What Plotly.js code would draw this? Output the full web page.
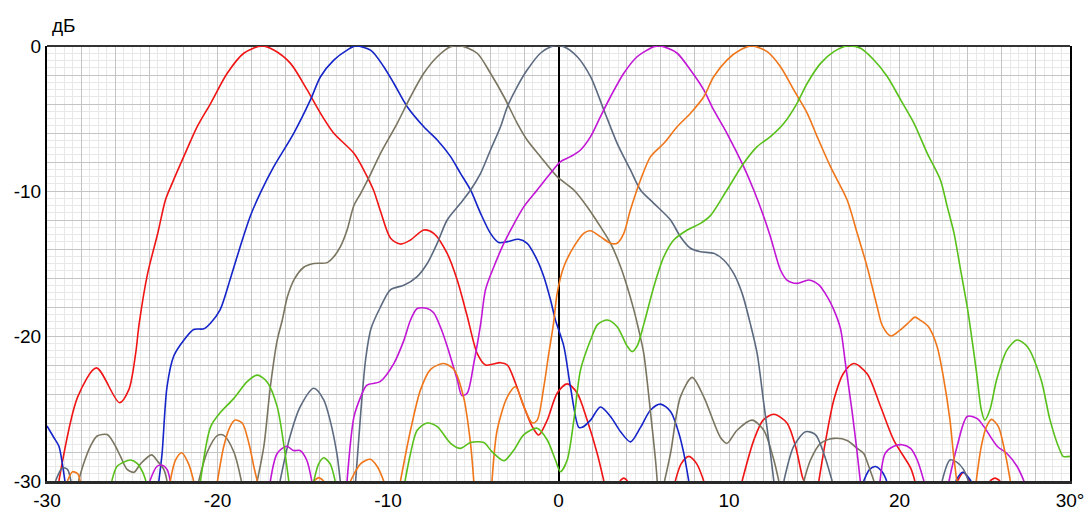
<!DOCTYPE html>
<html>
<head>
<meta charset="utf-8">
<script src="https://cdn.plot.ly/plotly-3.0.1.min.js"></script>
<style>html,body{margin:0;padding:0;background:#fff;}#chart{width:1088px;height:511px;}</style>
</head>
<body>
<div id="chart"></div>
<script>
// Beam patterns (dB vs angle, degrees); null = curve below -30 dB (cut off)
var redX = [-29.3,-28.2,-27.1,-25.75,-25.2,-24.8,-24.6,-24.1,-23.5,-23.05,-22.66,-21.98,-21.19,-20.4,-19.43,-18.46,-17.4,-16.7,-15.72,-14.74,-13.96,-13.18,-12.0,-11.32,-10.83,-10.44,-9.85,-9.27,-8.68,-7.9,-7.32,-6.53,-5.94,-5.36,-4.77,-4.28,-3.4,-3.0,-2.52,-2.03,-1.54,-1.16,-0.66,-0.08,0.51,1.1,1.68,2.27,2.66,null,
  3.6,3.83,4.05,null,6.85,7.2,7.64,8.1,8.52,null,10.77,11.45,12.0,12.63,13.4,13.9,14.3,14.4,null,
  15.27,15.7,16.15,16.7,17.32,18.1,18.9,19.67,20.65,20.9,null,23.4,23.77,24.1,null,25.3,25.6,25.9];
var redY = [-30,-24.2,-22.2,-24.6,-23.7,-21.2,-19.2,-15.7,-12.9,-10.6,-9.47,-7.63,-5.56,-3.95,-1.88,-0.5,0,-0.28,-1.2,-3.03,-4.64,-6.02,-7.4,-8.78,-10.0,-11.4,-13.26,-13.66,-13.38,-12.69,-12.92,-14.3,-16.14,-18.6,-21.2,-22.0,-21.84,-22.0,-23.26,-24.87,-26.25,-26.83,-25.8,-23.95,-23.3,-23.95,-25.8,-28.1,-30,null,
  -30,-29.8,-30,null,-30,-28.8,-28.3,-28.8,-30,null,-30,-27.2,-25.8,-25.4,-26.0,-27.6,-29.7,-30,null,
  -30,-27.0,-24.4,-22.6,-21.9,-22.6,-24.9,-27.2,-29.1,-30,null,-30,-29.4,-30,null,-30,-29.8,-30];

var blueX = [-30,-29.6,-29.3,-29.1,-28.95,null,
  -23.44,-23.25,-22.96,-22.57,-21.98,-21.4,-20.8,-20.4,-19.85,-19.26,-18.67,-18.09,-17.5,-16.7,-15.53,-14.55,-13.96,-13.18,-12.4,-11.9,-11.0,-10.25,-9.66,-8.87,-7.9,-7.11,-6.33,-5.75,-5.16,-4.57,-3.99,-3.5,-3.0,-2.34,-1.84,-1.25,-0.86,-0.47,-0.18,0.31,0.7,1.19,1.39,1.88,2.46,3.05,3.64,4.22,4.81,5.4,5.98,6.57,7.06,7.35,7.64,null,
  17.9,18.25,18.6,19.0,19.25,null,23.3,23.7,24.2];
var blueY = [-26.2,-27.0,-27.6,-28.8,-30,null,
  -30,-28.1,-23.5,-21.4,-20.3,-19.55,-19.5,-19.1,-18.2,-16.1,-13.84,-11.77,-10.16,-8.32,-6.02,-3.72,-2.12,-0.97,-0.28,0,-0.3,-1.43,-2.57,-4.19,-5.57,-6.48,-7.63,-8.78,-9.93,-11.54,-12.92,-13.56,-13.49,-13.33,-13.61,-14.76,-15.91,-17.5,-18.9,-20.7,-23.5,-26.3,-26.3,-25.8,-24.9,-25.55,-26.6,-27.3,-26.3,-25.1,-24.7,-25.2,-26.7,-28.1,-30,null,
  -30,-29.2,-29.0,-29.4,-30,null,-30,-29.4,-30];

var oliveX = [-28.15,-27.85,-27.45,-27.06,-26.47,-26.08,-25.69,-25.3,-24.9,-24.5,-23.86,-23.54,-23.15,-22.96,null,
  -21.1,-20.6,-20.0,-19.63,-19.04,-18.6,null,
  -17.67,-17.28,-16.9,-16.5,-16.2,-15.9,-15.5,-14.94,-14.35,-13.57,-13.18,-12.79,-12.4,-12.0,-11.6,-11.13,-10.44,-9.46,-8.68,-7.9,-7.11,-6.33,-5.7,-4.77,-3.99,-3.2,-2.42,-1.84,-1.06,-0.08,0.9,1.68,2.46,3.05,3.64,4.03,4.42,4.71,5.0,5.4,5.69,5.79,null,
  6.22,6.57,7.15,7.84,8.52,9.5,9.88,10.47,11.35,12.04,12.63,12.92,null,
  14.39,14.78,15.37,16.15,16.93,17.52,17.9,18.2,18.5];
var oliveY = [-30,-28.8,-27.6,-26.9,-26.8,-27.4,-28.3,-29.2,-29.4,-28.8,-28.2,-28.6,-29.2,-30,null,
  -30,-28.0,-26.85,-26.85,-28.0,-30,null,
  -30,-27.6,-23.5,-20.3,-18.9,-17.3,-16.1,-15.26,-15.0,-14.94,-14.53,-13.84,-12.69,-11.0,-10.16,-9.1,-7.4,-5.33,-3.5,-1.88,-0.74,-0.05,0,-0.5,-1.88,-3.5,-5.33,-6.48,-7.63,-9.01,-9.93,-11.08,-12.46,-13.6,-15.22,-16.6,-18.2,-19.6,-21.2,-25.3,-28.55,-30,null,
  -30,-28.1,-24.2,-22.85,-24.2,-27.0,-27.4,-26.5,-25.8,-26.5,-28.55,-30,null,
  -30,-28.55,-27.4,-27.06,-27.2,-27.75,-28.1,-29.0,-30];

var slateX = [-29.5,-29.1,-28.8,-28.6,null,
  -16.33,-15.74,-15.16,-14.35,-13.77,-13.4,-13.0,-12.8,null,
  -11.9,-11.6,-11.3,-11.0,-10.44,-9.85,-9.07,-8.29,-7.7,-7.11,-6.53,-5.75,-5.16,-4.57,-3.99,-3.4,-3.0,-2.42,-1.84,-1.06,-0.3,0.31,1.1,1.88,2.66,3.44,4.22,4.81,5.59,6.57,7.15,7.74,8.33,9.1,9.69,10.28,10.77,11.26,11.65,12.04,12.43,12.63,null,
  13.22,13.8,14.49,15.07,15.56,16.05,null,22.5,22.96,23.36,23.75,24.04];
var slateY = [-30,-29.1,-29.2,-30,null,
  -30,-26.9,-24.9,-23.6,-24.4,-25.8,-28.1,-30,null,
  -30,-25.3,-21.5,-19.5,-18.0,-16.8,-16.5,-15.9,-15.0,-13.6,-12.0,-10.85,-9.93,-8.78,-7.17,-5.57,-4.19,-2.8,-1.66,-0.5,0,-0.05,-0.74,-2.12,-4.41,-6.71,-8.55,-9.93,-10.85,-12.0,-13.15,-13.95,-14.19,-14.3,-14.76,-15.7,-17.06,-19.2,-21.2,-24.65,-28.1,-30,null,
  -30,-27.6,-26.6,-26.8,-28.1,-30,null,-30,-28.55,-28.7,-29.2,-30];

var magentaX = [-23.97,-23.56,-23.27,-22.96,-22.77,null,
  -16.9,-16.5,-15.94,-15.55,-15.16,-14.77,-14.47,null,
  -12.4,-12.0,-11.6,-11.25,-10.47,-9.66,-9.07,-8.68,-8.29,-7.7,-7.32,-6.92,-6.53,-5.94,-5.67,-5.36,-4.97,-4.57,-4.28,-3.79,-3.2,-2.81,-2.03,-1.25,-0.47,0.12,0.7,1.29,1.88,2.46,3.05,3.83,4.61,5.59,5.9,6.16,6.96,7.74,8.52,9.1,9.88,10.86,11.45,12.04,12.43,13.02,13.4,13.99,14.68,15.27,15.76,16.15,16.54,16.83,17.23,17.52,17.7,null,
  18.86,19.16,19.67,20.16,20.65,21.04,21.43,null,
  22.9,23.38,23.97,24.56,24.95,25.73,26.3,26.9,27.3];
var magentaY = [-30,-29.0,-28.9,-29.2,-30,null,
  -30,-28.1,-27.6,-27.9,-27.9,-28.55,-30,null,
  -30,-25.6,-24.2,-23.4,-23.15,-21.9,-20.3,-18.9,-18.1,-18.1,-18.4,-19.4,-20.7,-23.0,-24.1,-23.95,-21.9,-19.2,-16.8,-15.22,-13.6,-12.7,-11.08,-9.93,-8.78,-7.98,-7.63,-7.17,-6.25,-4.87,-3.5,-1.88,-0.74,-0.05,0,-0.05,-0.5,-1.66,-3.03,-4.41,-6.02,-8.32,-9.93,-11.77,-13.15,-15.45,-16.14,-16.37,-16.14,-16.48,-17.29,-18.2,-19.5,-21.9,-25.3,-28.1,-30,null,
  -30,-28.1,-27.6,-27.5,-27.75,-28.55,-30,null,
  -30,-27.6,-25.55,-25.7,-26.25,-27.6,-28.1,-29.0,-30];

var orangeX = [-28.8,-28.5,-28.2,-28.05,null,
  -22.77,-22.46,-22.1,-21.7,-21.4,null,
  -20.0,-19.63,-19.26,-18.97,-18.55,-18.16,-17.87,-17.67,null,
  -14.35,-14.06,-13.77,null,
  -12.2,-11.6,-11.03,-10.63,-10.25,null,
  -9.27,-8.68,-8.09,-7.5,-6.74,-6.14,-5.57,-5.16,-4.97,null,
  -3.9,-3.6,-3.0,-2.52,-2.03,-1.54,-1.25,-0.86,-0.57,-0.3,-0.08,0.31,0.9,1.48,1.88,2.46,3.05,3.44,3.83,4.22,4.81,5.4,6.18,6.96,7.74,8.52,9.1,9.88,10.65,11.35,12.24,13.02,13.8,14.59,15.17,15.95,16.93,17.52,18.1,18.69,19.0,19.5,20.03,20.6,20.9,21.2,21.7,22.2,22.57,22.96,23.16,23.36,null,
  24.5,24.8,25.1,25.4,25.8,26.2,26.5];
var orangeY = [-30,-29.36,-29.5,-30,null,
  -30,-28.55,-28.05,-28.8,-30,null,
  -30,-27.6,-26.25,-25.8,-26.0,-27.4,-29.0,-30,null,
  -30,-29.77,-30,null,
  -30,-28.8,-28.5,-29.0,-30,null,
  -30,-26.5,-23.7,-22.3,-21.9,-22.3,-24.2,-27.4,-30,null,
  -30,-26.5,-24.2,-23.5,-24.87,-26.0,-25.8,-23.5,-21.2,-19.2,-17.06,-15.22,-13.84,-12.92,-12.74,-13.15,-13.6,-13.6,-12.92,-11.3,-9.24,-7.63,-6.71,-5.57,-4.64,-3.5,-2.12,-0.97,-0.28,0,-0.39,-1.43,-3.03,-4.64,-6.25,-8.32,-10.62,-12.92,-15.22,-17.98,-19.3,-20.0,-19.6,-19.0,-18.7,-18.9,-19.36,-20.7,-22.8,-25.8,-28.1,-30,null,
  -30,-27.6,-26.25,-25.75,-26.25,-28.1,-30];

var greenX = [-26.2,-25.9,-25.5,-25.1,-24.7,-24.4,-24.2,null,
  -21.0,-20.4,-19.85,-19.04,-18.26,-17.67,-17.1,-16.5,-16.1,-15.82,null,
  -14.35,-14.06,-13.77,-13.4,-13.1,null,
  -9.0,-8.68,-8.29,-7.7,-7.11,-6.33,-5.75,-5.16,-4.38,-3.9,-3.2,-2.62,-2.03,-1.25,-0.66,-0.18,0.12,0.51,0.9,1.29,1.88,2.3,2.86,3.44,4.03,4.32,4.61,5.0,5.59,6.18,6.76,7.55,8.33,8.91,9.88,10.86,11.65,12.43,13.22,13.99,14.59,15.37,16.15,16.93,17.72,18.5,19.29,20.07,20.85,21.63,22.4,22.8,23.2,23.55,23.97,24.16,24.5,24.8,25.0,25.3,25.7,26.3,26.9,27.5,28.3,28.83,29.4,29.6,30.0];
var greenY = [-30,-29.0,-28.7,-28.55,-28.8,-29.36,-30,null,
  -30,-26.25,-25.3,-24.3,-23.15,-22.7,-23.15,-24.87,-27.6,-30,null,
  -30,-28.8,-28.4,-28.8,-30,null,
  -30,-28.1,-26.5,-26.0,-26.25,-27.4,-27.75,-27.35,-27.35,-27.98,-28.6,-27.86,-26.8,-26.36,-27.17,-28.55,-29.36,-28.55,-25.8,-22.35,-20.28,-19.2,-18.9,-19.36,-20.7,-21.08,-20.7,-19.2,-16.6,-14.53,-13.38,-12.69,-12.23,-11.7,-9.93,-8.09,-6.94,-6.25,-5.33,-3.95,-2.57,-1.2,-0.39,0,-0.16,-0.97,-2.12,-3.72,-5.33,-7.4,-9.24,-11.08,-12.92,-15.22,-17.98,-19.47,-22.35,-25.1,-25.8,-25.1,-23.0,-20.97,-20.28,-20.74,-23.0,-25.8,-27.86,-28.3,-28.3];

var seriesNames = ["red","blue","olive","slate","magenta","orange","green"];
var seriesX = [redX, blueX, oliveX, slateX, magentaX, orangeX, greenX];
var seriesY = [redY, blueY, oliveY, slateY, magentaY, orangeY, greenY];
var seriesColors = ["#f01414","#1424c8","#7a7560","#5c6a80","#c216d6","#f0761a","#58c01a"];

var xTickVals = []; var xTickText = [];
for (var v = -30; v <= 30; v += 2) { xTickVals.push(v); xTickText.push(v % 10 === 0 ? (v === 30 ? "30°" : String(v)) : ""); }
var yTickVals = []; var yTickText = [];
for (var w = -30; w <= 0; w += 2) { yTickVals.push(w); yTickText.push(w % 10 === 0 ? String(w) : ""); }

var traces = seriesX.map(function (xs, i) {
  return {
    x: xs, y: seriesY[i], type: "scatter", mode: "lines", name: seriesNames[i],
    connectgaps: false, hoverinfo: "skip",
    line: { color: seriesColors[i], width: 1.6, shape: "spline", smoothing: 0.8 }
  };
});

var font = { family: "Liberation Sans, Arial, sans-serif", size: 19, color: "#000" };
var layout = {
  width: 1088, height: 511,
  margin: { l: 47, r: 18, t: 46, b: 30, pad: 0 },
  paper_bgcolor: "#fff", plot_bgcolor: "#fff",
  showlegend: false,
  font: font,
  xaxis: {
    range: [-30, 30], tickmode: "array", tickvals: xTickVals, ticktext: xTickText,
    ticks: "", showgrid: true, gridcolor: "#c4c4c4", gridwidth: 1,
    minor: { dtick: 0.5, tick0: 0, showgrid: true, gridcolor: "#e8e8e8", gridwidth: 1, ticks: "" },
    zeroline: true, zerolinecolor: "#000", zerolinewidth: 2,
    showline: true, linecolor: "#2a2a2a", linewidth: 3,
    tickfont: font, fixedrange: true
  },
  yaxis: {
    range: [-30, 0], tickmode: "array", tickvals: yTickVals, ticktext: yTickText,
    ticks: "", showgrid: true, gridcolor: "#c4c4c4", gridwidth: 1,
    minor: { dtick: 0.5, tick0: 0, showgrid: true, gridcolor: "#e8e8e8", gridwidth: 1, ticks: "" },
    zeroline: true, zerolinecolor: "#333", zerolinewidth: 2,
    showline: true, mirror: true, linecolor: "#000", linewidth: 2,
    tickfont: font, fixedrange: true
  },
  annotations: [{
    text: "дБ", xref: "paper", yref: "paper", x: 0.0166, y: 1.047,
    xanchor: "center", yanchor: "middle", showarrow: false, font: font
  }]
};

Plotly.newPlot("chart", traces, layout, { displayModeBar: false, staticPlot: true });
</script>
</body>
</html>
